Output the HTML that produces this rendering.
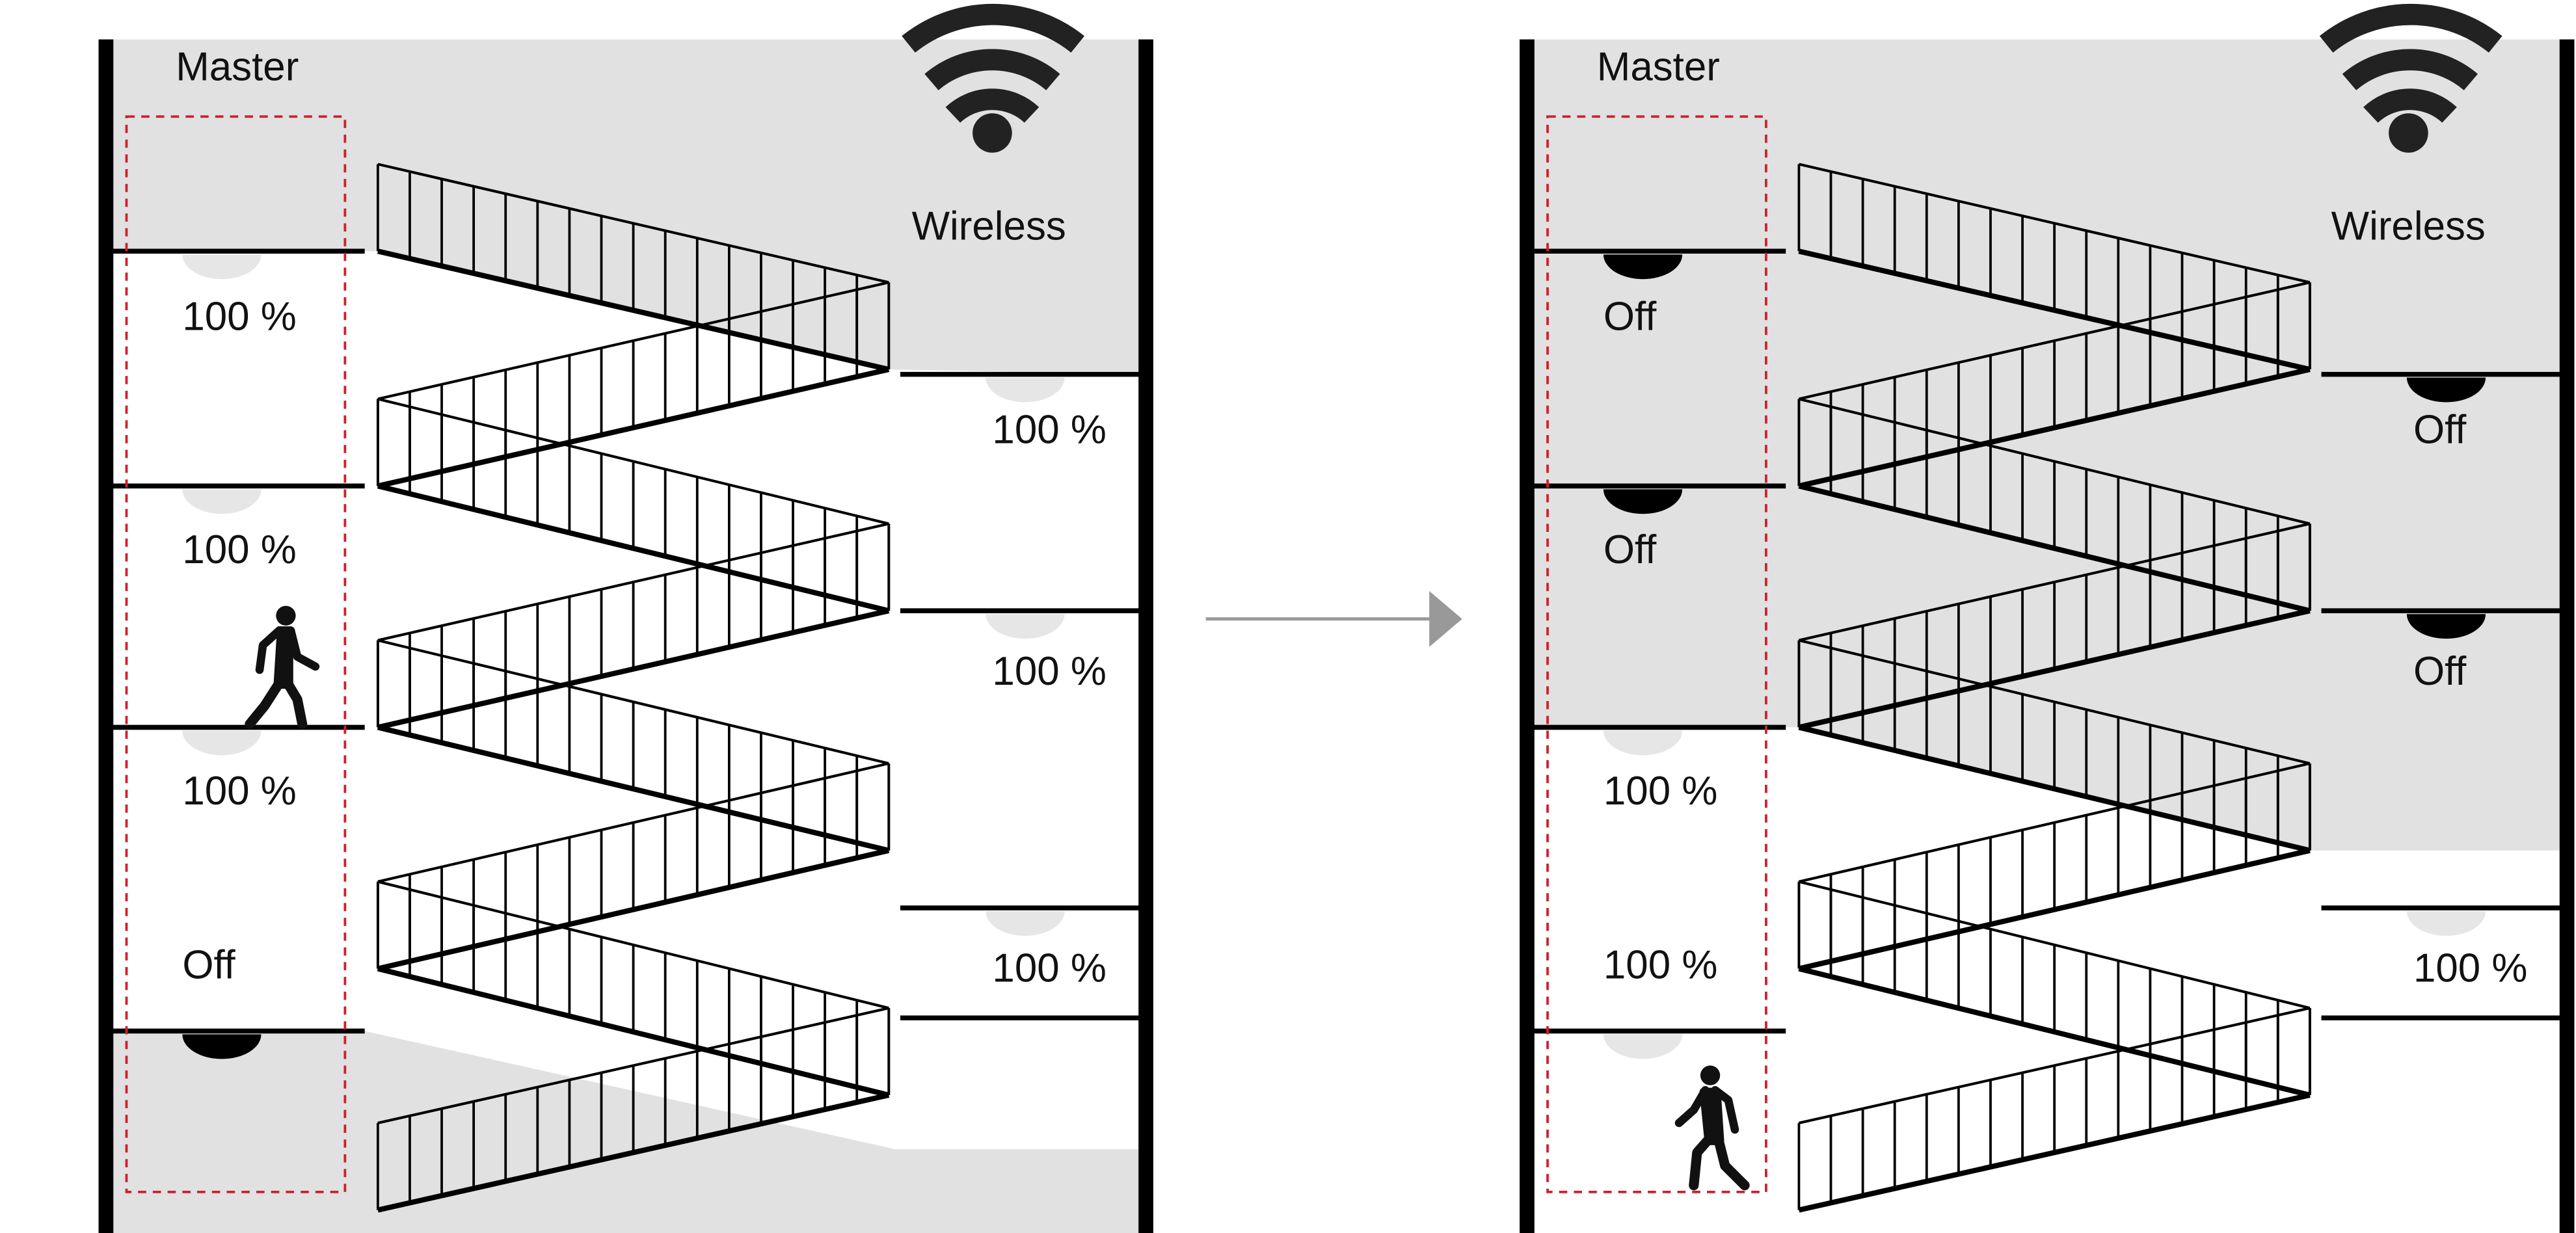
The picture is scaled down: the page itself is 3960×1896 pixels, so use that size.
<!DOCTYPE html>
<html><head><meta charset="utf-8"><style>
html,body{margin:0;padding:0;background:#fff;}
svg{display:block;}
text{font-family:"Liberation Sans",sans-serif;fill:#111;}
</style></head><body>
<svg id="s" width="3960" height="1896" viewBox="0 0 1568 751" preserveAspectRatio="none" xmlns="http://www.w3.org/2000/svg">
<rect width="1568" height="751" fill="#fff"/>
<polygon points="68,24 694,24 694,228 541,225 230,153 68,153" fill="#e1e1e1"/>
<polygon points="68,628 222,628 545,700 694,700 694,751 68,751" fill="#e1e1e1"/>
<polygon points="933,24 1559,24 1559,518 1405,518 1096,443 933,443" fill="#e1e1e1"/>
<g id="stairsL"></g>
<g id="stairsR" transform="translate(865,0)"></g>
<rect x="60" y="24" width="9" height="727" fill="#000"/>
<rect x="693" y="24" width="9" height="727" fill="#000"/>
<rect x="925" y="24" width="9" height="727" fill="#000"/>
<rect x="1558" y="24" width="9" height="727" fill="#000"/>
<g stroke="#000" stroke-width="3">
<line x1="68" y1="153" x2="222" y2="153"/><line x1="68" y1="296" x2="222" y2="296"/><line x1="68" y1="443" x2="222" y2="443"/><line x1="68" y1="628" x2="222" y2="628"/>
<line x1="548" y1="228" x2="694" y2="228"/><line x1="548" y1="372" x2="694" y2="372"/><line x1="548" y1="553" x2="694" y2="553"/><line x1="548" y1="620" x2="694" y2="620"/>
<line x1="933" y1="153" x2="1087" y2="153"/><line x1="933" y1="296" x2="1087" y2="296"/><line x1="933" y1="443" x2="1087" y2="443"/><line x1="933" y1="628" x2="1087" y2="628"/>
<line x1="1413" y1="228" x2="1559" y2="228"/><line x1="1413" y1="372" x2="1559" y2="372"/><line x1="1413" y1="553" x2="1559" y2="553"/><line x1="1413" y1="620" x2="1559" y2="620"/>
</g>
<g fill="#e6e6e6">
<path d="M111,155 h48 a24,15 0 0 1 -48,0z"/><path d="M111,298 h48 a24,15 0 0 1 -48,0z"/><path d="M111,445 h48 a24,15 0 0 1 -48,0z"/>
<path d="M600,230 h48 a24,15 0 0 1 -48,0z"/><path d="M600,374 h48 a24,15 0 0 1 -48,0z"/><path d="M600,555 h48 a24,15 0 0 1 -48,0z"/>
<path d="M976,445 h48 a24,15 0 0 1 -48,0z"/><path d="M976,630 h48 a24,15 0 0 1 -48,0z"/>
<path d="M1465,555 h48 a24,15 0 0 1 -48,0z"/>
</g>
<g fill="#000">
<path d="M111,630 h48 a24,15 0 0 1 -48,0z"/>
<path d="M976,155 h48 a24,15 0 0 1 -48,0z"/><path d="M976,298 h48 a24,15 0 0 1 -48,0z"/>
<path d="M1465,230 h48 a24,15 0 0 1 -48,0z"/><path d="M1465,374 h48 a24,15 0 0 1 -48,0z"/>
</g>
<rect x="77" y="71" width="133" height="655" fill="none" stroke="#d0202a" stroke-width="1.5" stroke-dasharray="5,4"/>
<rect x="942" y="71" width="133" height="655" fill="none" stroke="#d0202a" stroke-width="1.5" stroke-dasharray="5,4"/>
<g font-size="24.5">
<text x="107" y="49">Master</text>
<text x="111" y="201">100 %</text><text x="111" y="343">100 %</text><text x="111" y="490">100 %</text><text x="111" y="596">Off</text>
<text x="555" y="146">Wireless</text>
<text x="604" y="270">100 %</text><text x="604" y="417">100 %</text><text x="604" y="598">100 %</text>
<text x="972" y="49">Master</text>
<text x="976" y="201">Off</text><text x="976" y="343">Off</text><text x="976" y="490">100 %</text><text x="976" y="596">100 %</text>
<text x="1419" y="146">Wireless</text>
<text x="1469" y="270">Off</text><text x="1469" y="417">Off</text><text x="1469" y="598">100 %</text>
</g>
<g fill="none" stroke="#222" stroke-width="13">
<path d="M553,27 A82,82 0 0 1 656,27"/>
<path d="M567,50 A57,57 0 0 1 641,50"/>
<path d="M580,70 A35,35 0 0 1 628,70"/>
</g>
<circle cx="604" cy="81" r="12" fill="#222"/>
<g fill="none" stroke="#222" stroke-width="13">
<path d="M1416,27 A82,82 0 0 1 1519,27"/>
<path d="M1430,50 A57,57 0 0 1 1504,50"/>
<path d="M1443,70 A35,35 0 0 1 1491,70"/>
</g>
<circle cx="1466" cy="81" r="12" fill="#222"/>
<line x1="734" y1="377" x2="872" y2="377" stroke="#999" stroke-width="2"/>
<polygon points="870,360 890,377 870,394" fill="#999"/>
<g fill="#111" stroke="#111" stroke-linecap="round" stroke-linejoin="round">
<circle cx="174" cy="375" r="6" stroke="none"/>
<path d="M170,384 L177,384 L181,400 L192,406" fill="none" stroke-width="5"/>
<path d="M170,384 L160,393 L158,408" fill="none" stroke-width="5"/>
<path d="M171,385 L176,385 L176,417 L169,417z" stroke-width="5"/>
<path d="M170,416 L161,430 L152,441" fill="none" stroke-width="6"/>
<path d="M175,416 L181,426 L184,441" fill="none" stroke-width="6"/>
</g>
<g fill="#111" stroke="#111" stroke-linecap="round" stroke-linejoin="round">
<circle cx="1041" cy="655" r="6" stroke="none"/>
<path d="M1038,664 L1031,676 L1022,684" fill="none" stroke-width="5"/>
<path d="M1044,664 L1052,670 L1056,688" fill="none" stroke-width="5"/>
<path d="M1037,665 L1045,665 L1047,695 L1040,695z" stroke-width="5"/>
<path d="M1040,694 L1033,702 L1031,722" fill="none" stroke-width="6"/>
<path d="M1046,694 L1050,710 L1062,722" fill="none" stroke-width="6"/>
</g>
</svg>
<script>
(function(){
var NS="http://www.w3.org/2000/svg";
var L=[153,296,443,590,737], R=[225,372,518,667];
var flights=[];
for(var i=0;i<4;i++){
  flights.push([230,L[i],541,R[i]]);
  flights.push([541,R[i],230,L[i+1]]);
}
function build(g){
  flights.forEach(function(f){
    var x1=f[0],y1=f[1],x2=f[2],y2=f[3],h=53;
    var ln=function(a,b,c,d,w){var e=document.createElementNS(NS,"line");e.setAttribute("x1",a);e.setAttribute("y1",b);e.setAttribute("x2",c);e.setAttribute("y2",d);e.setAttribute("stroke","#000");e.setAttribute("stroke-width",w);g.appendChild(e);};
    ln(x1,y1,x2,y2,3.2);
    ln(x1,y1-h,x2,y2-h,1.6);
    var n=16;
    for(var k=0;k<=n;k++){
      var t=k/n, x=x1+(x2-x1)*t, y=y1+(y2-y1)*t;
      ln(x,y,x,y-h,1.5);
    }
  });
}
build(document.getElementById("stairsL"));
build(document.getElementById("stairsR"));
})();
</script>
</body></html>
